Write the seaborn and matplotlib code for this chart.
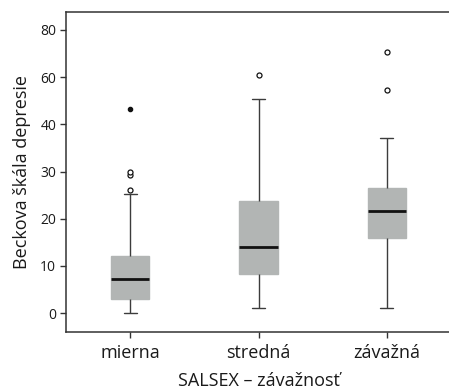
import numpy as np
import pandas as pd
import seaborn as sns
import matplotlib.pyplot as plt

# Skupiny podla zavaznosti
categories = ["mierna", "stredná", "závažná"]
mierna = [0, 1, 1, 2, 2, 3, 4, 5, 6, 6, 7.2, 8, 9, 10, 11, 12, 25.3, 26, 29.2, 30.0, 43.3]
stredna = [1.1, 3, 4, 5, 7, 8.2, 9, 10, 12, 13, 14, 16, 18, 20, 22, 23.8, 28, 33, 40, 45.3, 50.4]
zavazna = [1.1, 8, 11, 13, 15, 16, 17, 18, 19, 20, 21.6, 22, 23, 24, 25, 26.5, 29, 33, 37.2, 47.3, 55.3]

# popisky osi y (tak ako v originale)
ytick_pos = [0, 10, 20, 30, 40, 50, 60]
ytick_labels = ["0", "10", "20", "30", "40", "60", "80"]

df = pd.DataFrame({
    "group": np.repeat(categories, [len(mierna), len(stredna), len(zavazna)]),
    "score": mierna + stredna + zavazna,
})

sns.set_style("ticks")
plt.rcParams["font.family"] = ["Open Sans", "DejaVu Sans"]
plt.rcParams["text.color"] = "#1a1a1a"
plt.rcParams["axes.labelcolor"] = "#1a1a1a"
plt.rcParams["xtick.labelcolor"] = "#1a1a1a"
plt.rcParams["ytick.labelcolor"] = "#1a1a1a"

fig = plt.figure(figsize=(4.49, 3.89), dpi=100)
ax = fig.add_axes([66 / 449, 1 - 332 / 389, 385 / 449, 320.5 / 389])

sns.boxplot(data=df, x="group", y="score", order=categories, ax=ax,
            width=0.3, whis=1.5, showfliers=False, color="#b2b5b4",
            linecolor="#3c3c3c", linewidth=1, capwidths=0.1,
            boxprops=dict(facecolor="#b2b5b4", edgecolor="#b2b5b4"),
            medianprops=dict(color="#111111", linewidth=2))

# odlahle a extremne hodnoty (ako v SPSS)
for i, vals in enumerate([mierna, stredna, zavazna]):
    v = np.array(vals)
    q1, q3 = np.percentile(v, [25, 75])
    iqr = q3 - q1
    out = v[((v > q3 + 1.5 * iqr) & (v <= q3 + 3 * iqr)) | ((v < q1 - 1.5 * iqr) & (v >= q1 - 3 * iqr))]
    ext = v[(v > q3 + 3 * iqr) | (v < q1 - 3 * iqr)]
    ax.plot([i] * len(out), out, "o", ms=3.6, mfc="white", mec="#111111", mew=0.9, zorder=3)
    ax.plot([i] * len(ext), ext, "o", ms=3.0, mfc="#111111", mec="#111111", zorder=3)

ax.set_xlim(-0.5, 2.5)
ax.set_ylim(-4, 63.9)
ax.set_yticks(ytick_pos)
ax.set_yticklabels(ytick_labels)
ax.tick_params(axis="y", labelsize=10, length=4, width=1, pad=3, color="#333333")
ax.tick_params(axis="x", labelsize=13, length=4, width=1, pad=5, color="#333333")
for s in ["left", "bottom", "top"]:
    ax.spines[s].set_color("#333333")
    ax.spines[s].set_linewidth(1.1)
ax.spines["right"].set_visible(False)
ax.spines["top"].set_visible(True)

ax.set_xlabel("SALSEX – závažnosť", fontsize=13, labelpad=7)
ax.set_ylabel("Beckova škála depresie", fontsize=13, labelpad=7)

fig.savefig("out.png", dpi=100)
